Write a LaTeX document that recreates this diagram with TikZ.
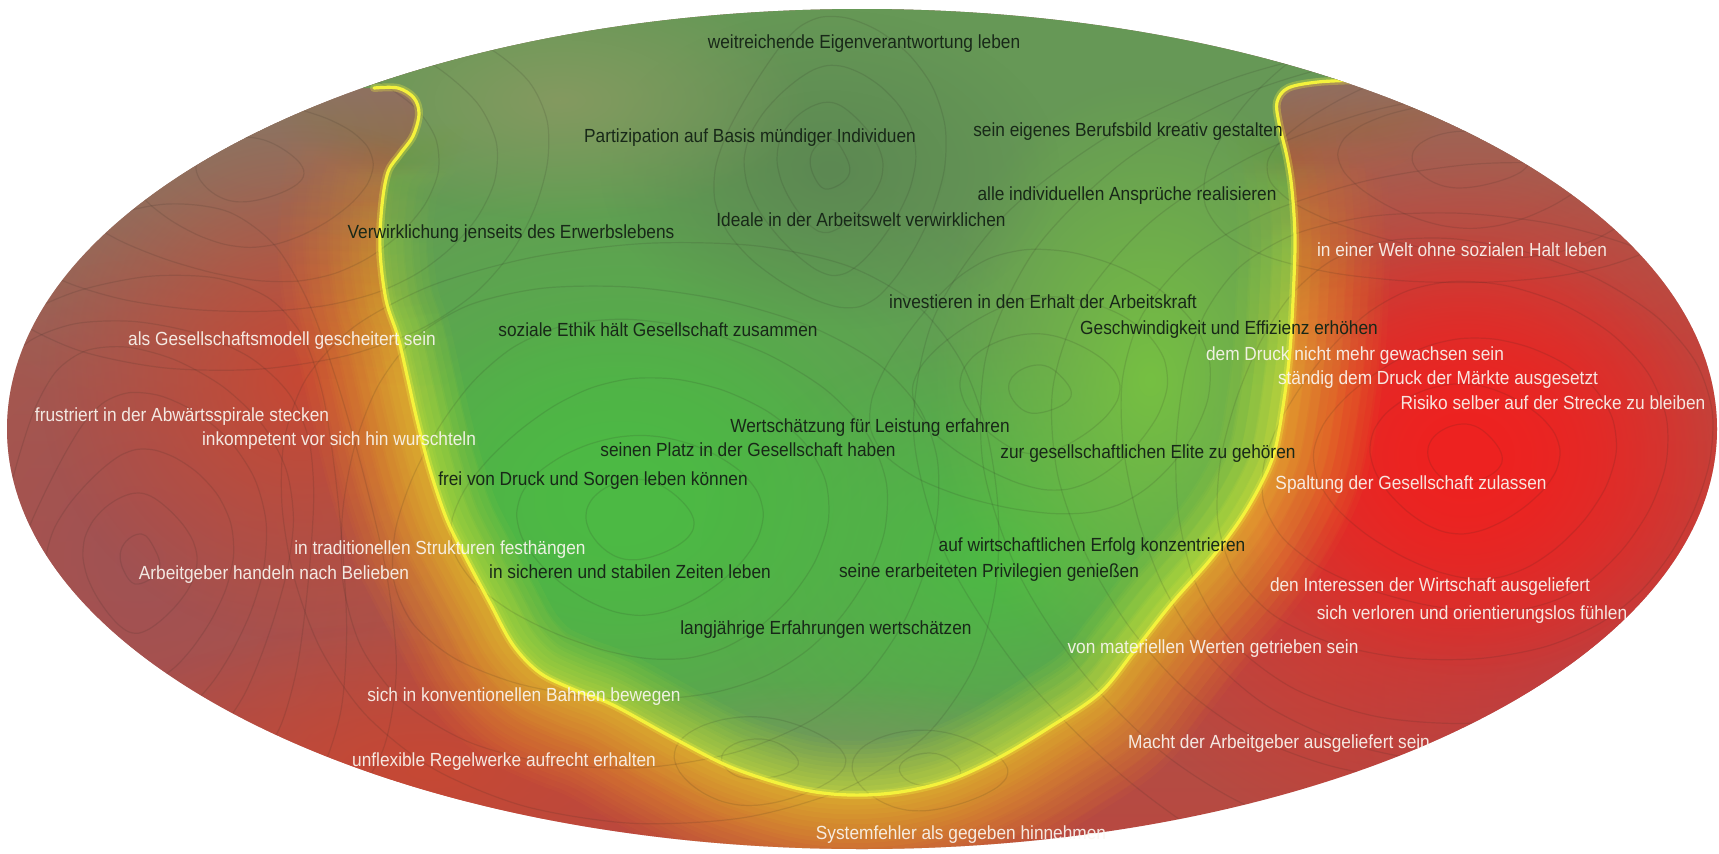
\documentclass[tikz,border=0pt]{standalone}
\usepackage{fontspec}
\setmainfont{Liberation Sans}
\newfontfamily\lblfont[FakeStretch=0.91]{Liberation Sans}
\usetikzlibrary{fadings}

\definecolor{redtop}{RGB}{150,104,90}
\definecolor{redbase}{RGB}{172,74,70}
\definecolor{redlow}{RGB}{184,72,64}
\definecolor{redgray}{RGB}{140,116,98}
\definecolor{reddeep}{RGB}{198,72,52}
\definecolor{redmute}{RGB}{160,82,84}
\definecolor{redbright}{RGB}{238,34,32}
\definecolor{grnbase}{RGB}{102,152,86}
\definecolor{grndark}{RGB}{92,136,82}
\definecolor{grnbright}{RGB}{76,186,68}
\definecolor{grnmid}{RGB}{118,192,66}
\definecolor{grnolive}{RGB}{124,150,96}
\definecolor{grntan}{RGB}{132,154,96}
\definecolor{grnyel}{RGB}{160,208,58}
\definecolor{glowora}{RGB}{224,120,46}
\definecolor{glowyel}{RGB}{238,226,46}
\definecolor{lineyel}{RGB}{244,242,60}
\definecolor{txtdark}{RGB}{24,40,24}
\definecolor{txtlight}{RGB}{250,246,240}
\definecolor{ctrcol}{RGB}{40,36,30}

\tikzfading[name=radfade, inner color=transparent!0, outer color=transparent!100]
\pgfdeclareverticalshading{glowsh}{100bp}{color(0bp)=(white); color(52bp)=(white); color(66bp)=(black); color(100bp)=(black)}
\tikzfading[name=glowfade, shading=glowsh]

\newcommand\bnd{plot[smooth, tension=0.55] coordinates {(374,88) (398,88) (414,98) (419,114) (413,136) (400,154) (388,172) (382,205) (380,250) (386,300) (398,337) (408,380) (417,420) (430,470) (447,520) (467,560) (490,603) (513,645) (540,673) (575,690) (613,705) (677,740) (733,768) (800,789) (850,795) (900,792) (950,780) (1000,757) (1050,727) (1100,693) (1135,650) (1172,603) (1210,560) (1240,520) (1262,482) (1275,450) (1284,400) (1290,350) (1293,300) (1295,240) (1292,190) (1287,157) (1279,123) (1277,102) (1288,88) (1318,82) (1360,80)}}
\newcommand\greenregion{\bnd -- (1380,60) -- (1380,-20) -- (360,-20) -- (360,88) -- cycle}
\newcommand\contourset[5]{%
  \foreach \r in {#5} {\draw[ctr] plot[smooth cycle, samples=24, domain=0:345]
    ({#1+#3*\r*cos(\x)+0.07*\r*sin(3*\x+\r)}, {#2+#4*\r*sin(\x)+0.06*\r*cos(2*\x+2*\r)});}}

\tikzset{
  lbl/.style={font=\lblfont\fontsize{19}{22}\selectfont, inner sep=0pt, anchor=base},
  dk/.style={lbl, text=txtdark},
  lt/.style={lbl, text=txtlight, text opacity=0.92},
  ctr/.style={draw=ctrcol, opacity=0.13, line width=1.2},
  glowln/.style={line join=round, line cap=round, path fading=glowfade, fit fading=true},
  blob/.style={path fading=radfade, fit fading=true},
}

\begin{document}
\begin{tikzpicture}[x=1pt,y=-1pt]
\useasboundingbox (0,0) rectangle (1719,854);
\fill[white] (0,0) rectangle (1719,854);
\begin{scope}
  \clip (862,429) ellipse [x radius=855, y radius=420];
  % red field
  \shade[top color=redtop, middle color=redbase, bottom color=redlow] (0,0) rectangle (1719,854);
  \fill[redgray, blob] (240,150) ellipse [x radius=400, y radius=280];
  \fill[redgray, blob] (270,130) ellipse [x radius=240, y radius=170];
  \fill[redgray, blob] (1470,140) ellipse [x radius=400, y radius=240];
  \fill[redgray, blob] (1420,110) ellipse [x radius=220, y radius=140];
  \fill[redmute, blob] (140,560) ellipse [x radius=280, y radius=300];
  \fill[redmute, blob] (1580,700) ellipse [x radius=260, y radius=220];
  \fill[reddeep, blob] (300,380) ellipse [x radius=260, y radius=260];
  \fill[reddeep, blob] (430,770) ellipse [x radius=360, y radius=150];
  \fill[redbright, blob] (1465,455) ellipse [x radius=440, y radius=400];
  \fill[redbright, blob] (1465,455) ellipse [x radius=250, y radius=220];
  % outer glow (smooth, faded towards the top)
  \foreach \i in {0,...,19} {
    \pgfmathsetmacro\w{200-9.5*\i}
    \pgfmathtruncatemacro\pc{\i*100/19}
    \draw[glowln, line width=\w, draw=glowyel!\pc!glowora, opacity=0.08] (0,0) (1719,854) \bnd;
  }
  % green field
  \begin{scope}
    \clip \greenregion;
    \fill[grnbase] (0,0) rectangle (1719,854);
    \fill[grnbright, blob] (620,500) ellipse [x radius=480, y radius=380];
    \fill[grnbright, blob] (620,500) ellipse [x radius=260, y radius=200];
    \fill[grnbright, blob] (1000,560) ellipse [x radius=300, y radius=220];
    \fill[grnmid, blob] (1150,380) ellipse [x radius=220, y radius=300];
    \fill[grnolive, blob] (840,790) ellipse [x radius=320, y radius=110];
    \fill[grndark, blob] (830,170) ellipse [x radius=230, y radius=160];
    \fill[grntan, blob] (560,100) ellipse [x radius=250, y radius=120];
    \foreach \i in {0,...,11} {
      \pgfmathsetmacro\w{110-9*\i}
      \pgfmathtruncatemacro\pc{\i*100/11}
      \draw[glowln, line width=\w, draw=lineyel!\pc!grnyel, opacity=0.09] (0,0) (1719,854) \bnd;
    }
  \end{scope}
  % contour lines
  \contourset{140}{560}{0.75}{1.0}{25,70,...,340}
  \contourset{1465}{455}{1.2}{1.0}{30,75,...,435}
  \contourset{640}{520}{1.3}{1.0}{40,90,...,290}
  \contourset{830}{165}{0.75}{1.0}{25,65,...,145}
  \contourset{1040}{390}{1.0}{0.8}{30,75,...,165}
  \contourset{930}{770}{1.5}{0.8}{20,50}
  \contourset{760}{760}{1.5}{0.8}{25,55}
  \contourset{250}{170}{1.3}{0.8}{40,90,...,240}
  \contourset{1470}{160}{1.4}{0.7}{40,90,...,190}
  % yellow boundary line
  \draw[lineyel, line width=8, opacity=0.3, line join=round, line cap=round] \bnd;
  \draw[lineyel, line width=3.2, line join=round, line cap=round] \bnd;
\end{scope}

% labels
\node[dk] (t1) at (864,48) {weitreichende Eigenverantwortung leben};
\node[dk] (t2) at (750,142) {Partizipation auf Basis mündiger Individuen};
\node[dk] (t3) at (1128,136) {sein eigenes Berufsbild kreativ gestalten};
\node[dk] (t4) at (1127,200) {alle individuellen Ansprüche realisieren};
\node[dk] (t5) at (861,226) {Ideale in der Arbeitswelt verwirklichen};
\node[dk] (t6) at (511,238) {Verwirklichung jenseits des Erwerbslebens};
\node[lt] (t7) at (1462,256) {in einer Welt ohne sozialen Halt leben};
\node[dk] (t8) at (1043,308) {investieren in den Erhalt der Arbeitskraft};
\node[dk] (t9) at (1229,334) {Geschwindigkeit und Effizienz erhöhen};
\node[lt] (t10) at (282,345) {als Gesellschaftsmodell gescheitert sein};
\node[dk] (t11) at (658,336) {soziale Ethik hält Gesellschaft zusammen};
\node[lt] (t12) at (1355,360) {dem Druck nicht mehr gewachsen sein};
\node[lt] (t13) at (1438,384) {ständig dem Druck der Märkte ausgesetzt};
\node[lt] (t14) at (1553,409) {Risiko selber auf der Strecke zu bleiben};
\node[lt] (t15) at (182,421) {frustriert in der Abwärtsspirale stecken};
\node[lt] (t16) at (339,445) {inkompetent vor sich hin wurschteln};
\node[dk] (t17) at (870,432) {Wertschätzung für Leistung erfahren};
\node[dk] (t18) at (748,456) {seinen Platz in der Gesellschaft haben};
\node[dk] (t19) at (1148,458) {zur gesellschaftlichen Elite zu gehören};
\node[dk] (t20) at (593,485) {frei von Druck und Sorgen leben können};
\node[lt] (t21) at (1411,489) {Spaltung der Gesellschaft zulassen};
\node[lt] (t22) at (440,554) {in traditionellen Strukturen festhängen};
\node[dk] (t23) at (1092,551) {auf wirtschaftlichen Erfolg konzentrieren};
\node[lt] (t24) at (274,579) {Arbeitgeber handeln nach Belieben};
\node[dk] (t25) at (630,578) {in sicheren und stabilen Zeiten leben};
\node[dk] (t26) at (989,577) {seine erarbeiteten Privilegien genießen};
\node[lt] (t27) at (1430,591) {den Interessen der Wirtschaft ausgeliefert};
\node[lt] (t28) at (1472,619) {sich verloren und orientierungslos fühlen};
\node[dk] (t29) at (826,634) {langjährige Erfahrungen wertschätzen};
\node[lt] (t30) at (1213,653) {von materiellen Werten getrieben sein};
\node[lt] (t31) at (524,701) {sich in konventionellen Bahnen bewegen};
\node[lt] (t32) at (1279,748) {Macht der Arbeitgeber ausgeliefert sein};
\node[lt] (t33) at (504,766) {unflexible Regelwerke aufrecht erhalten};
\node[lt] (t34) at (961,839) {Systemfehler als gegeben hinnehmen};
\end{tikzpicture}
\end{document}
